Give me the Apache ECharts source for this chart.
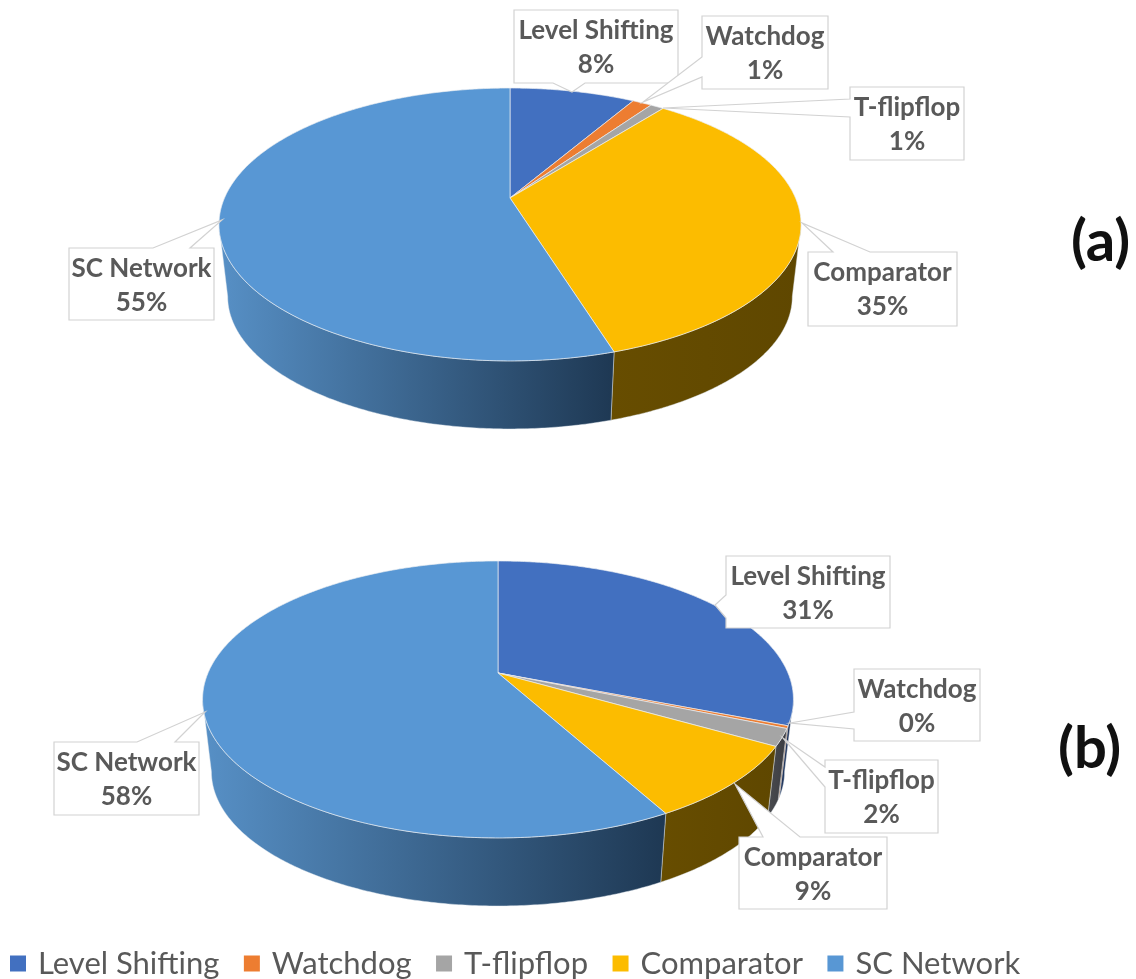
<!DOCTYPE html>
<html><head><meta charset="utf-8">
<style>html,body{margin:0;padding:0;background:#fff}#c{width:1136px;height:979px}</style>
<script src="https://cdn.jsdelivr.net/npm/echarts@6/dist/echarts.min.js"></script>
</head><body><div id="c"></div>
<script>
const categories = ['Level Shifting', 'Watchdog', 'T-flipflop', 'Comparator', 'SC Network'];
const valuesA = [8.4, 1.3, 0.9, 34.6, 54.8];
const valuesB = [31, 0.3, 2, 8.7, 58];
const pieNames = ['(a)', '(b)'];

const topColors = ['#4270c0', '#ed7d31', '#a5a5a5', '#fcbc00', '#5897d4'];
const wallColors = [
  ['#24395f', '#1f3156'], ['#8a4a1c', '#6e3a14'], ['#4b4c50', '#3a3b40'],
  ['#674d00', '#5f4700'], ['#5790c6', '#1e3853']
];

// Geometry of each projected disc: apex position, perspective and extrusion.
const discs = [
  { cx: 510, cy: 198, A: 285.5, B: 131.3, k: 0.194, shrink: 0.97, lowCy: 270.9 },
  { cx: 498, cy: 673, A: 290, B: 133.4, k: 0.191, shrink: 0.97, lowCy: 746 }
];
// Callout layout: box [x0,y0,x1,y1], tip, edge carrying the pointer and its span.
const calloutLayout = [
  [
    { box: [514, 10, 678, 83], tip: [572, 92], edge: 'bottom', span: [553, 585] },
    { box: [702, 16, 828, 89], tip: [643, 102], edge: 'left', span: [57, 77] },
    { box: [850, 87, 964, 160], tip: [663, 108], edge: 'left', span: [99, 117] },
    { box: [808, 252, 957, 326], tip: [802, 223], edge: 'top', span: [833, 870] },
    { box: [69, 248, 214, 320], tip: [222, 220], edge: 'top', span: [153, 190] }
  ],
  [
    { box: [726, 556, 890, 628], tip: [715, 605], edge: 'left', span: [595, 618] },
    { box: [854, 669, 980, 741], tip: [790, 723], edge: 'left', span: [712, 729] },
    { box: [825, 760, 938, 833], tip: [783, 738], edge: 'left', span: [767, 787] },
    { box: [739, 837, 887, 909], tip: [735, 784], edge: 'top', span: [763, 800] },
    { box: [54, 742, 199, 815], tip: [205, 712], edge: 'top', span: [137, 175] }
  ]
];

const allValues = [valuesA, valuesB];
const rad = p => p / 100 * Math.PI * 2;

function rimPoint(d, theta, low) {
  const u = Math.sin(theta), v = -Math.cos(theta), w = 1 - d.k * v;
  const s = low ? d.shrink : 1, cy = low ? d.lowCy : d.cy;
  return [d.cx + s * d.A * u / w, cy + s * d.B * v / w];
}
function sweep(d, a, b, low) {
  const pts = [], n = Math.max(2, Math.ceil((b - a) / 0.01));
  for (let i = 0; i <= n; i++) pts.push(rimPoint(d, a + (b - a) * i / n, low));
  return pts;
}
function sliceChildren(catIdx, pieIdx) {
  const d = discs[pieIdx], vals = allValues[pieIdx];
  let sum = 0;
  for (let i = 0; i < catIdx; i++) sum += vals[i];
  const a = rad(sum), b = rad(sum + vals[catIdx]);
  const kids = [];
  const sil = Math.acos(-d.k), from = Math.max(a, sil), to = Math.min(b, Math.PI * 2 - sil);
  if (to > from) {
    const up = sweep(d, from, to, false), lo = sweep(d, from, to, true).reverse();
    kids.push({
      type: 'polygon', z2: 1, shape: { points: up.concat(lo) },
      style: {
        fill: { type: 'linear', x: 0, y: 0, x2: 1, y2: 0, colorStops: [
          { offset: 0, color: wallColors[catIdx][0] }, { offset: 1, color: wallColors[catIdx][1] }] },
        stroke: 'rgba(225,232,240,0.55)', lineWidth: 0.8
      }
    });
  }
  kids.push({
    type: 'polygon', z2: 2, shape: { points: [[d.cx, d.cy]].concat(sweep(d, a, b, false)) },
    style: { fill: topColors[catIdx], stroke: 'rgba(235,238,242,0.85)', lineWidth: 0.8 }
  });
  return kids;
}
function calloutChildren(catIdx, pieIdx) {
  const c = calloutLayout[pieIdx][catIdx], [x0, y0, x1, y1] = c.box, [s0, s1] = c.span;
  let pts;
  if (c.edge === 'bottom') pts = [[x0, y0], [x1, y0], [x1, y1], [s1, y1], c.tip, [s0, y1], [x0, y1]];
  if (c.edge === 'top') pts = [[x0, y0], [s0, y0], c.tip, [s1, y0], [x1, y0], [x1, y1], [x0, y1]];
  if (c.edge === 'left') pts = [[x0, y0], [x1, y0], [x1, y1], [x0, y1], [x0, s1], c.tip, [x0, s0]];
  const mid = (x0 + x1) / 2, val = Math.round(allValues[pieIdx][catIdx]) + '%';
  const font = { fontFamily: 'Lato', fontWeight: 'bold', fontSize: 26, fill: '#595959', align: 'center', verticalAlign: 'middle' };
  return [
    { type: 'polygon', shape: { points: pts }, style: { fill: '#fff', stroke: '#d2d2d2', lineWidth: 1.2 } },
    { type: 'text', z2: 2, style: Object.assign({ text: categories[catIdx], x: mid, y: y0 + 21 }, font) },
    { type: 'text', z2: 2, style: Object.assign({ text: val, x: mid, y: y0 + 55 }, font) }
  ];
}

const sliceSeries = categories.map((name, i) => ({
  type: 'custom', name, coordinateSystem: 'none', silent: true, z: 2,
  itemStyle: { color: topColors[i] },
  data: allValues.map((vals, p) => [vals[i], p]),
  renderItem: (params, api) => ({ type: 'group', children: sliceChildren(i, api.value(1)) })
}));
const calloutSeries = categories.map((name, i) => ({
  type: 'custom', name: name + ' label', coordinateSystem: 'none', silent: true, z: 5,
  data: allValues.map((vals, p) => [vals[i], p]),
  renderItem: (params, api) => ({ type: 'group', children: calloutChildren(i, api.value(1)) })
}));

const chart = echarts.init(document.getElementById('c'), null, { renderer: 'canvas' });
chart.setOption({
  animation: false,
  backgroundColor: '#fff',
  legend: {
    data: categories, left: 5, top: 943, icon: 'rect', itemWidth: 16, itemHeight: 16, itemGap: 24.5,
    selectedMode: false,
    textStyle: { fontFamily: 'Lato', fontSize: 31, color: '#595959', padding: [0, 0, 0, 7] }
  },
  graphic: [
    { type: 'text', left: 1071, top: 213, style: { text: pieNames[0], fontFamily: 'Lato', fontWeight: 'bold', fontSize: 58, fill: '#111' } },
    { type: 'text', left: 1058, top: 720, style: { text: pieNames[1], fontFamily: 'Lato', fontWeight: 'bold', fontSize: 58, fill: '#111' } }
  ],
  series: sliceSeries.concat(calloutSeries)
});
</script></body></html>
